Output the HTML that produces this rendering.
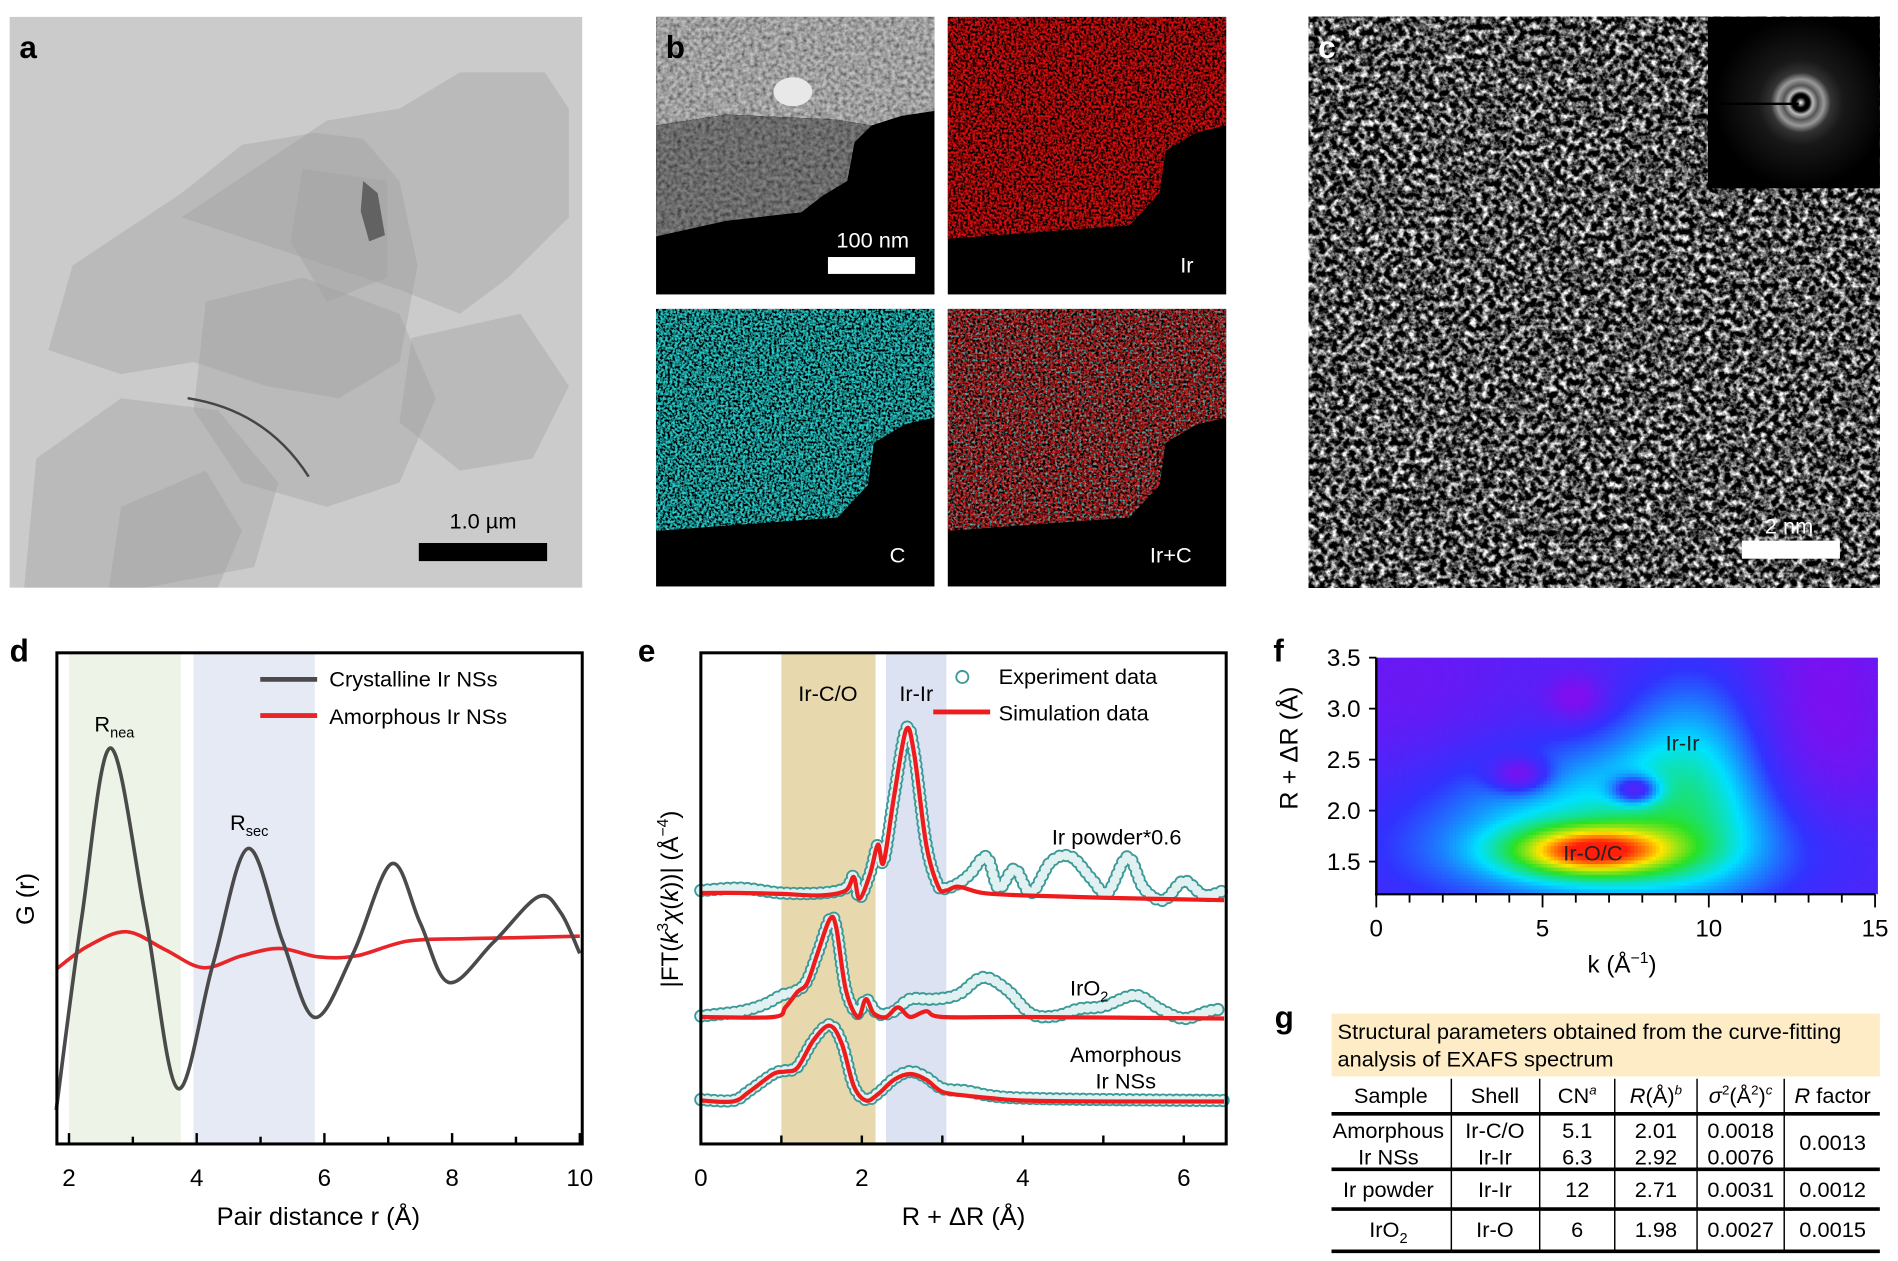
<!DOCTYPE html>
<html><head><meta charset="utf-8"><style>
html,body{margin:0;padding:0;background:#fff;overflow:hidden}
svg{display:block;font-family:"Liberation Sans",sans-serif}
</style></head><body>
<svg id="fig" xmlns="http://www.w3.org/2000/svg" width="1898" height="1261" viewBox="0 0 1568 1045" preserveAspectRatio="none">
<defs>
<filter id="nzc" x="0" y="0" width="1" height="1"><feTurbulence type="fractalNoise" baseFrequency="0.5" numOctaves="2" seed="3" result="t"/><feColorMatrix in="t" type="matrix" values="3 0 0 0 -1.15 3 0 0 0 -1.15 3 0 0 0 -1.15 0 0 0 0 1" result="g"/><feComposite in="SourceGraphic" in2="g" operator="arithmetic" k1="1.1"/><feComposite in2="SourceGraphic" operator="in"/></filter>
<filter id="nzc2" x="0" y="0" width="1" height="1"><feTurbulence type="fractalNoise" baseFrequency="0.5" numOctaves="2" seed="11" result="t"/><feColorMatrix in="t" type="matrix" values="0 0 0 0 0 0 0 0 0 0 0 0 0 0 0 4 0 0 0 -2" result="g"/><feComposite in="SourceGraphic" in2="g" operator="in"/></filter>
<filter id="nzg" x="0" y="0" width="1" height="1" color-interpolation-filters="sRGB"><feTurbulence type="fractalNoise" baseFrequency="0.2" numOctaves="3" seed="7" result="t"/><feColorMatrix in="t" type="matrix" values="2.6 0 0 0 -1.0 2.6 0 0 0 -1.0 2.6 0 0 0 -1.0 0 0 0 0 1"/></filter>
<filter id="nzs" x="0" y="0" width="1" height="1"><feTurbulence type="fractalNoise" baseFrequency="0.3" numOctaves="2" seed="5" result="t"/><feColorMatrix in="t" type="matrix" values="1 0 0 0 0 1 0 0 0 0 1 0 0 0 0 0 0 0 0 1" result="g"/><feComposite in="SourceGraphic" in2="g" operator="arithmetic" k1="1.5"/><feComposite in2="SourceGraphic" operator="in"/></filter>
<radialGradient id="rings" cx="0.54" cy="0.5" r="0.5">
<stop offset="0" stop-color="#fff"/><stop offset="0.06" stop-color="#000"/><stop offset="0.1" stop-color="#000"/><stop offset="0.14" stop-color="#bbb"/><stop offset="0.2" stop-color="#555"/><stop offset="0.27" stop-color="#999"/><stop offset="0.35" stop-color="#333"/><stop offset="0.5" stop-color="#181818"/><stop offset="1" stop-color="#000"/></radialGradient>
</defs>

<g>
<rect x="8" y="14" width="473" height="473" fill="#cbcbcb"/>
<g fill="#a0a0a0" fill-opacity="0.4">
<polygon points="60,220 150,160 200,120 260,110 300,115 330,150 345,220 330,300 280,330 220,320 160,300 100,310 40,290"/>
<polygon points="150,180 270,100 330,90 380,60 450,60 470,90 470,180 420,230 380,260 330,240"/>
<polygon points="170,250 250,230 330,260 360,330 330,400 270,420 200,400 160,340"/>
<polygon points="30,380 100,330 180,340 230,400 210,470 120,487 20,487"/>
<polygon points="250,140 320,150 320,230 270,250 240,200"/>
<polygon points="340,280 430,260 470,320 440,380 380,390 330,350"/>
<polygon points="100,420 170,390 200,440 180,487 90,487"/>
</g>
<polygon points="300,150 312,160 318,195 305,200 298,175" fill="#333" fill-opacity="0.6"/>
<path d="M155,330 Q220,340 255,395" stroke="#444" stroke-width="2" fill="none"/>
<text x="16" y="48" font-size="26" font-weight="bold">a</text>
<rect x="346" y="450" width="106" height="15" fill="#000"/>
<text x="399" y="438" font-size="18" text-anchor="middle">1.0 µm</text>
</g>

<g>
<rect x="542" y="14" width="230" height="230" fill="#000"/>
<polygon points="542,14 772,14 772,92 745,96 720,104 690,99 600,95 542,104" fill="#b4b4b4" filter="url(#nzs)"/>
<polygon points="542,104 600,95 690,99 720,104 706,118 700,150 680,162 662,176 600,183 542,196" fill="#7a7a7a" filter="url(#nzs)"/>
<ellipse cx="655" cy="76" rx="16" ry="12" fill="#e8e8e8"/>
<rect x="684" y="213" width="72" height="14" fill="#fff"/>
<text x="721" y="205" font-size="18" text-anchor="middle" fill="#fff">100 nm</text>
<text x="550" y="48" font-size="26" font-weight="bold">b</text>

<rect x="783" y="14" width="230" height="230" fill="#000"/>
<polygon points="783,14 1013,14 1013,104 988,110 963,125 958,160 933,187 863,192 783,198" fill="#d81010" filter="url(#nzc)"/>
<text x="975" y="226" font-size="18" fill="#fff">Ir</text>

<rect x="542" y="256" width="230" height="230" fill="#000"/>
<polygon points="542,256 772,256 772,346 747,352 722,367 717,402 692,429 622,434 542,440" fill="#28c8c8" filter="url(#nzc)"/>
<text x="735" y="466" font-size="18" fill="#fff">C</text>

<rect x="783" y="256" width="230" height="230" fill="#000"/>
<polygon points="783,256 1013,256 1013,346 988,352 963,367 958,402 933,429 863,434 783,440" fill="#c81818" filter="url(#nzc)"/>
<polygon points="783,256 1013,256 1013,346 988,352 963,367 958,402 933,429 863,434 783,440" fill="#40c8c8" fill-opacity="0.8" filter="url(#nzc2)"/>
<text x="950" y="466" font-size="18" fill="#fff">Ir+C</text>
</g>

<g>
<rect x="1081" y="14" width="472" height="473" fill="#fff" filter="url(#nzg)"/>
<rect x="1411" y="14" width="142" height="142" fill="url(#rings)"/>
<line x1="1420" y1="86" x2="1486" y2="86" stroke="#000" stroke-width="2"/>
<text x="1089" y="48" font-size="26" font-weight="bold" fill="#fff">c</text>
<rect x="1439" y="448" width="81" height="15" fill="#fff"/>
<text x="1478" y="442" font-size="18" text-anchor="middle" fill="#fff">2 nm</text>
</g>

<g id="pd">
<text x="8" y="548" font-size="26" font-weight="bold">d</text>
</g>
<g id="pe">
<text x="527" y="548" font-size="26" font-weight="bold">e</text>
</g>
<g id="pf">
<text x="1052" y="548" font-size="26" font-weight="bold">f</text>
</g>

<g font-size="18">
<text x="1053" y="852" font-size="26" font-weight="bold">g</text>
<rect x="1100" y="840" width="453" height="52" fill="#fdecc6"/>
<text x="1105" y="861">Structural parameters obtained from the curve-fitting</text>
<text x="1105" y="884">analysis of EXAFS spectrum</text>
<g stroke="#000">
<line x1="1100" y1="923" x2="1553" y2="923" stroke-width="3"/>
<line x1="1100" y1="969" x2="1553" y2="969" stroke-width="3"/>
<line x1="1100" y1="1002" x2="1553" y2="1002" stroke-width="3"/>
<line x1="1100" y1="1037" x2="1553" y2="1037" stroke-width="3"/>
<line x1="1199" y1="894" x2="1199" y2="1037" stroke-width="1.2"/>
<line x1="1272" y1="894" x2="1272" y2="1037" stroke-width="1.2"/>
<line x1="1334" y1="894" x2="1334" y2="1037" stroke-width="1.2"/>
<line x1="1402" y1="894" x2="1402" y2="1037" stroke-width="1.2"/>
<line x1="1474" y1="894" x2="1474" y2="1037" stroke-width="1.2"/>
</g>
<g text-anchor="middle">
<text x="1149" y="914">Sample</text><text x="1235" y="914">Shell</text>
<text x="1303" y="914">CN<tspan font-size="11" dy="-7" font-style="italic">a</tspan></text>
<text x="1368" y="914"><tspan font-style="italic">R</tspan>(Å)<tspan font-size="11" dy="-7" font-style="italic">b</tspan></text>
<text x="1438" y="914"><tspan font-style="italic">σ</tspan><tspan font-size="11" dy="-7">2</tspan><tspan dy="7">(Å</tspan><tspan font-size="11" dy="-7">2</tspan><tspan dy="7">)</tspan><tspan font-size="11" dy="-7" font-style="italic">c</tspan></text>
<text x="1514" y="914"><tspan font-style="italic">R</tspan> factor</text>
<text x="1147" y="943">Amorphous</text><text x="1147" y="965">Ir NSs</text>
<text x="1235" y="943">Ir-C/O</text><text x="1235" y="965">Ir-Ir</text>
<text x="1303" y="943">5.1</text><text x="1303" y="965">6.3</text>
<text x="1368" y="943">2.01</text><text x="1368" y="965">2.92</text>
<text x="1438" y="943">0.0018</text><text x="1438" y="965">0.0076</text>
<text x="1514" y="953">0.0013</text>
<text x="1147" y="992">Ir powder</text><text x="1235" y="992">Ir-Ir</text><text x="1303" y="992">12</text><text x="1368" y="992">2.71</text><text x="1438" y="992">0.0031</text><text x="1514" y="992">0.0012</text>
<text x="1147" y="1025">IrO<tspan font-size="12" dy="5">2</tspan></text><text x="1235" y="1025">Ir-O</text><text x="1303" y="1025">6</text><text x="1368" y="1025">1.98</text><text x="1438" y="1025">0.0027</text><text x="1514" y="1025">0.0015</text>
</g>
</g>
</svg>
<script>
const crystR = [1.8,2.2,2.65,3.2,3.7,4.25,4.8,5.35,5.85,6.45,7.05,7.5,7.95,8.65,9.35,9.7,10];
const crystG = [0.069,0.46,0.804,0.46,0.113,0.363,0.600,0.41,0.257,0.387,0.569,0.449,0.328,0.41,0.502,0.47,0.387];
const amorR = [1.8,2.3,2.9,3.5,4.1,4.7,5.3,5.9,6.5,7.3,8.2,9,10];
const amorG = [0.355,0.402,0.431,0.395,0.358,0.382,0.397,0.380,0.382,0.412,0.417,0.419,0.422];
const dTicks = [2,4,6,8,10];
const powR = [0,0.5,1.0,1.5,1.8,1.9,1.97,2.1,2.2,2.27,2.4,2.55,2.65,2.8,2.95,3.05,3.2,3.5,4,5,6.5];
const powSim = [5.2,5.2,5.18,5.15,5.25,5.53,5.08,5.58,6.2,5.83,7.2,8.58,8.08,6.2,5.33,5.25,5.33,5.2,5.15,5.1,5.05];
const powExpR = [0,0.5,1.0,1.5,1.8,1.9,1.97,2.1,2.2,2.27,2.4,2.55,2.65,2.8,2.95,3.05,3.2,3.35,3.55,3.7,3.9,4.1,4.35,4.6,4.85,5.05,5.3,5.5,5.75,6.0,6.25,6.5];
const powExp = [5.25,5.3,5.2,5.2,5.3,5.55,5.1,5.6,6.2,5.85,7.2,8.6,8.1,6.2,5.35,5.3,5.4,5.6,5.95,5.3,5.7,5.2,5.85,5.95,5.5,5.2,5.95,5.3,5.05,5.45,5.15,5.25];
const oxR = [0,0.9,1.05,1.2,1.32,1.45,1.6,1.68,1.8,1.95,2.05,2.15,2.3,2.45,2.6,2.8,3.0,4,6.5];
const oxSim = [2.63,2.63,2.83,3.15,3.33,3.95,4.65,4.5,3.2,2.63,3.0,2.7,2.63,2.83,2.63,2.75,2.63,2.63,2.6];
const oxExpR = [0,0.5,0.8,1.0,1.15,1.3,1.45,1.6,1.68,1.8,1.95,2.05,2.2,2.4,2.6,2.9,3.2,3.5,3.8,4.1,4.4,4.7,5.0,5.4,5.7,6.0,6.3,6.5];
const oxExp = [2.65,2.75,2.9,3.08,3.15,3.33,3.95,4.65,4.5,3.2,2.7,3.0,2.7,2.75,3.0,3.0,3.1,3.45,3.2,2.7,2.65,2.8,2.85,3.08,2.8,2.6,2.75,2.8];
const amR = [0,0.4,0.6,0.9,1.05,1.2,1.4,1.6,1.75,1.9,2.05,2.2,2.4,2.6,2.8,3.0,3.3,3.6,4,5,6.5];
const amSim = [0.9,0.88,1.08,1.45,1.5,1.58,2.15,2.45,2.08,1.2,0.9,1.03,1.33,1.45,1.33,1.08,1.0,0.95,0.9,0.88,0.88];
const amExp = [0.92,0.9,1.1,1.45,1.52,1.6,2.15,2.47,2.1,1.2,0.92,1.05,1.35,1.5,1.38,1.15,1.1,1.0,0.95,0.92,0.9];
const eTicks = [0,2,4,6];
const blobK = [7,6.5,9.5,6,4.3,7.8,6,1,13.5];
const blobR = [1.6,1.6,2.45,2.3,2.35,2.2,3.1,3.2,3.0];
const blobAmp = [0.3,0.62,0.25,0.14,-0.25,-0.35,-0.15,-0.05,-0.1];
const blobSk = [4.5,1.7,1.6,3,0.6,0.5,0.6,2,1.5];
const blobSr = [0.45,0.17,0.7,0.4,0.12,0.1,0.15,0.5,1];
const fYTicks = [1.5,2.0,2.5,3.0,3.5];
const fXTicks = [0,5,10,15];

const NS='http://www.w3.org/2000/svg';
function mk(tag,attrs,parent,txt){const e=document.createElementNS(NS,tag);for(const k in attrs)e.setAttribute(k,attrs[k]);if(txt!==undefined)e.textContent=txt;parent.appendChild(e);return e;}
function smooth(pts){let d='M'+pts[0][0].toFixed(2)+','+pts[0][1].toFixed(2);for(let i=0;i<pts.length-1;i++){const p0=pts[Math.max(i-1,0)],p1=pts[i],p2=pts[i+1],p3=pts[Math.min(i+2,pts.length-1)];const c1x=p1[0]+(p2[0]-p0[0])/6,c1y=p1[1]+(p2[1]-p0[1])/6,c2x=p2[0]-(p3[0]-p1[0])/6,c2y=p2[1]-(p3[1]-p1[1])/6;d+=` C${c1x.toFixed(2)},${c1y.toFixed(2)} ${c2x.toFixed(2)},${c2y.toFixed(2)} ${p2[0].toFixed(2)},${p2[1].toFixed(2)}`;}return d;}

const pd=document.getElementById('pd');
const xd=r=>57+(r-2)*52.75, yd=g=>948-g*408;
let el;
el=mk('rect',{x:xd(2),y:542,width:xd(3.75)-xd(2),height:406,fill:'#edf3e6'},pd);


el=mk('rect',{x:xd(3.95),y:542,width:xd(5.85)-xd(3.95),height:406,fill:'#e6eaf5'},pd);


el=mk('path',{d:smooth(amorR.map((r,i)=>[xd(r),yd(amorG[i])])),stroke:'#e8262a',fill:'none','stroke-width':3},pd);


el=mk('path',{d:smooth(crystR.map((r,i)=>[xd(r),yd(crystG[i])])),stroke:'#4a4a4a',fill:'none','stroke-width':3},pd);


mk('rect',{x:47,y:541,width:434,height:407,fill:'none',stroke:'#000','stroke-width':2.5},pd);
for(let r=2;r<=10;r++){mk('line',{x1:xd(r),x2:xd(r),y1:948,y2:r%2?942:939,stroke:'#000','stroke-width':2},pd);}
dTicks.forEach(t=>{el=mk('text',{x:xd(t),y:983,'font-size':20,'text-anchor':'middle'},pd,String(t));

});
el=mk('text',{x:263,y:1015,'font-size':21,'text-anchor':'middle'},pd,'Pair distance r (Å)');


el=mk('text',{x:28,y:745,'font-size':21,'text-anchor':'middle',transform:'rotate(-90 28 745)'},pd,'G (r)');


mk('line',{x1:215,x2:262,y1:563,y2:563,stroke:'#4a4a4a','stroke-width':4},pd);
mk('line',{x1:215,x2:262,y1:593,y2:593,stroke:'#e8262a','stroke-width':4},pd);
el=mk('text',{x:272,y:569,'font-size':18},pd,'Crystalline Ir NSs');


el=mk('text',{x:272,y:600,'font-size':18},pd,'Amorphous Ir NSs');


el=mk('text',{x:78,y:606,'font-size':18},pd,'R');mk('tspan',{'font-size':12,dy:5},el,'nea');


el=mk('text',{x:190,y:688,'font-size':18},pd,'R');mk('tspan',{'font-size':12,dy:5},el,'sec');



const pe=document.getElementById('pe');
const xe=r=>579+r*66.5, ye=v=>948-v*40;
el=mk('rect',{x:xe(1.0),y:542,width:xe(2.17)-xe(1.0),height:406,fill:'#e8d8ad'},pe);


el=mk('rect',{x:xe(2.3),y:542,width:xe(3.05)-xe(2.3),height:406,fill:'#dde2f2'},pe);


function expTrace(R,V,name){const d=smooth(R.map((r,i)=>[xe(r),ye(V[i])]));
el=mk('path',{d:d,stroke:'#3a9a98',fill:'none','stroke-width':11,'stroke-dasharray':'0 5.5','stroke-linecap':'round'},pe);


el=mk('path',{d:d,stroke:'#fff',fill:'none','stroke-width':8,'stroke-dasharray':'0 5.5','stroke-linecap':'round','stroke-opacity':0.85},pe);}
function simTrace(R,V,name){el=mk('path',{d:smooth(R.map((r,i)=>[xe(r),ye(V[i])])),stroke:'#ee1c1c',fill:'none','stroke-width':3.5},pe);

}
expTrace(powExpR,powExp,'ir-powder-experiment');simTrace(powR,powSim,'ir-powder-simulation');
expTrace(oxExpR,oxExp,'iro2-experiment');simTrace(oxR,oxSim,'iro2-simulation');
expTrace(amR,amExp,'amorphous-experiment');simTrace(amR,amSim,'amorphous-simulation');
mk('rect',{x:579,y:541,width:434,height:407,fill:'none',stroke:'#000','stroke-width':2.5},pe);
for(let r=0;r<=6.5;r+=1){mk('line',{x1:xe(r),x2:xe(r),y1:948,y2:941,stroke:'#000','stroke-width':2},pe);}
eTicks.forEach(t=>{el=mk('text',{x:xe(t),y:983,'font-size':20,'text-anchor':'middle'},pe,String(t));

});
el=mk('text',{x:796,y:1015,'font-size':21,'text-anchor':'middle'},pe,'R + ΔR (Å)');


el=mk('text',{x:560,y:745,'font-size':20,'text-anchor':'middle',transform:'rotate(-90 560 745)'},pe,'');
el.innerHTML='|FT(<tspan font-style="italic">k</tspan><tspan font-size="13" dy="-8">3</tspan><tspan dy="8" font-style="italic">χ</tspan>(<tspan font-style="italic">k</tspan>))| (Å<tspan font-size="13" dy="-8">−4</tspan><tspan dy="8">)</tspan>';


const eLabels=[['Ir-C/O',684,581,'middle'],['Ir-Ir',757,581,'middle'],['Experiment data',825,567,'start'],['Simulation data',825,597,'start'],['Ir powder*0.6',869,700,'start'],['Amorphous',930,880,'middle'],['Ir NSs',930,902,'middle']];
eLabels.forEach(l=>{el=mk('text',{x:l[1],y:l[2],'font-size':18,'text-anchor':l[3]},pe,l[0]);

});
el=mk('text',{x:884,y:825,'font-size':18},pe,'IrO');mk('tspan',{'font-size':12,dy:5},el,'2');


mk('circle',{cx:795,cy:561,r:5,fill:'none',stroke:'#3a9a98','stroke-width':1.5},pe);
mk('line',{x1:771,x2:818,y1:590,y2:590,stroke:'#ee1c1c','stroke-width':4},pe);

const pf=document.getElementById('pf');
const xf=k=>1137+k*27.47, yf=R=>714-(R-1.5)*84.5;
const kInv=px=>(px-1137)/27.47, RInv=py=>1.5+(714-py)/84.5;
const cmapStops=[[0,[125,15,240]],[0.2,[50,50,255]],[0.4,[0,225,255]],[0.6,[40,225,40]],[0.8,[255,230,0]],[1,[255,30,10]]];
function cmap(v){v=Math.max(0,Math.min(1,v));for(let i=0;i<cmapStops.length-1;i++){const a=cmapStops[i],b=cmapStops[i+1];if(v<=b[0]){const t=(v-a[0])/(b[0]-a[0]);return 'rgb('+a[1].map((c,j)=>Math.round(c+(b[1][j]-c)*t)).join(',')+')';}}return 'rgb(255,30,10)';}
const hm=mk('g',{},pf);


const step=3;
for(let py=545;py<741;py+=step){for(let px=1137;px<1549;px+=step){const k=kInv(px+step/2),R=RInv(py+step/2);let v=0.1;for(let b=0;b<blobK.length;b++){const dk=(k-blobK[b])/blobSk[b],dr=(R-blobR[b])/blobSr[b];v+=blobAmp[b]*Math.exp(-0.5*(dk*dk+dr*dr));}
mk('rect',{x:px,y:py,width:step+0.4,height:Math.min(step+0.4,741-py),fill:cmap(v)},hm);}}
mk('line',{x1:1137,x2:1137,y1:545,y2:742,stroke:'#000','stroke-width':2},pf);
mk('line',{x1:1136,x2:1549,y1:741,y2:741,stroke:'#000','stroke-width':2},pf);
for(let k=0;k<=15;k++){mk('line',{x1:xf(k),x2:xf(k),y1:741,y2:k%5?748:752,stroke:'#000','stroke-width':1.5},pf);}
fXTicks.forEach(t=>{el=mk('text',{x:xf(t),y:776,'font-size':20,'text-anchor':'middle'},pf,String(t));

});
fYTicks.forEach(t=>{mk('line',{x1:1131,x2:1137,y1:yf(t),y2:yf(t),stroke:'#000','stroke-width':1.5},pf);
el=mk('text',{x:1124,y:yf(t)+7,'font-size':20,'text-anchor':'end'},pf,t.toFixed(1));

});
el=mk('text',{x:1340,y:806,'font-size':20,'text-anchor':'middle'},pf,'');
el.innerHTML='k (Å<tspan font-size="13" dy="-8">−1</tspan><tspan dy="8">)</tspan>';


el=mk('text',{x:1072,y:620,'font-size':21,'text-anchor':'middle',transform:'rotate(-90 1072 620)'},pf,'R + ΔR (Å)');


el=mk('text',{x:1390,y:622,'font-size':18,'text-anchor':'middle',fill:'#222'},pf,'Ir-Ir');


el=mk('text',{x:1316,y:713,'font-size':18,'text-anchor':'middle',fill:'#222'},pf,'Ir-O/C');


</script>
</body></html>
